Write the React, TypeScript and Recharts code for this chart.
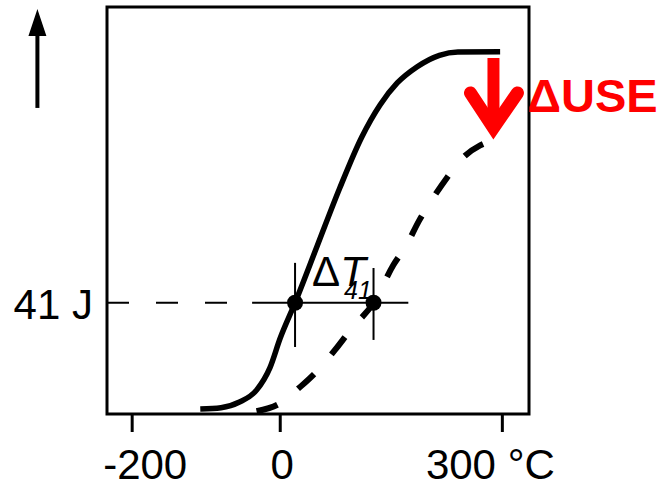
import {
  ComposedChart,
  Line,
  ReferenceArea,
  ReferenceDot,
  ReferenceLine,
  XAxis,
  YAxis,
} from "recharts";

const FONT = "'Liberation Sans', Arial, sans-serif";
const WIDTH = 658;
const HEIGHT = 484;

// temperature (°C) and impact energy (J)
const T_DOMAIN: [number, number] = [-234, 336];
const E_DOMAIN: [number, number] = [0, 150];

const X_TICKS = [-200, 0, 300];
const X_TICK_LABELS = ["-200", "0", "300 °C"];
const Y_TICKS = [41];
const Y_TICK_LABELS = ["41 J"];

// unirradiated (solid)
const BEFORE_T = [-108, -80, -55, -32, -14, 0, 20, 50, 80, 110, 135, 158, 185, 215, 240, 297];
const BEFORE_E = [1.8, 2.3, 4.4, 8.8, 17, 28, 41, 62, 83, 102, 114, 122, 128, 132.2, 133.4, 133.5];

// irradiated (dashed)
const AFTER_T = [-32, 0, 27, 52, 74, 95, 126, 153, 171, 187, 205, 225, 245, 270, 290];
const AFTER_E = [1, 4, 10, 16.5, 23.6, 31, 41, 55, 62.5, 71, 79, 87, 94, 99, 101];

const E41 = 41;
const T41_BEFORE = 20;
const T41_AFTER = 126;
const E41_LINE_END = 173;
const E41_DASH_END = -66;
const E41_SOLID_START = -38;

const USE_ARROW_T = 288;
const USE_ARROW_TOP = 131.2;
const USE_ARROW_TIP = 101;

const Y_ARROW_T = -328;
const Y_ARROW_BOTTOM = 112.8;
const Y_ARROW_TOP = 149.3;

const zip = (ts: number[], es: number[]) => ts.map((t, i) => ({ t, e: es[i] }));
const beforeData = zip(BEFORE_T, BEFORE_E);
const afterData = zip(AFTER_T, AFTER_E);

function XTick(props: any) {
  const { x, y, payload } = props;
  const i = X_TICKS.indexOf(payload.value);
  const shift = payload.value === -200 ? 13 : payload.value === 300 ? -12 : 2;
  return (
    <text
      x={x + shift}
      y={y + 47}
      textAnchor="middle"
      fontSize={42}
      fontFamily={FONT}
      fill="#000"
    >
      {X_TICK_LABELS[i]}
    </text>
  );
}

function YTick(props: any) {
  const { x, y, payload } = props;
  const i = Y_TICKS.indexOf(payload.value);
  return (
    <text x={x} y={y + 16} textAnchor="end" fontSize={42} fontFamily={FONT} fill="#000">
      {Y_TICK_LABELS[i]}
    </text>
  );
}

function UseArrow(props: any) {
  const { x1, y1, x2, y2 } = props;
  const v = y2 - 12;
  return (
    <g>
      <line x1={x1} y1={y1} x2={x2} y2={v - 8} stroke="#ff0000" strokeWidth={12} />
      <path
        d={`M ${x2 - 23} ${y2 - 47} L ${x2} ${v} L ${x2 + 24} ${y2 - 47}`}
        fill="none"
        stroke="#ff0000"
        strokeWidth={13}
        strokeLinecap="round"
        strokeLinejoin="miter"
        strokeMiterlimit={10}
      />
    </g>
  );
}

function UpArrow(props: any) {
  const { x1, y1, x2, y2 } = props;
  return (
    <g>
      <line x1={x1} y1={y1} x2={x2} y2={y2 + 22} stroke="#000" strokeWidth={4} />
      <path d={`M ${x2} ${y2} L ${x2 - 9} ${y2 + 27} L ${x2 + 9} ${y2 + 27} Z`} fill="#000" />
    </g>
  );
}

export default function App() {
  return (
    <div style={{ position: "absolute", left: 0, top: 0, width: WIDTH, height: HEIGHT, background: "#fff" }}>
      <ComposedChart
        width={WIDTH}
        height={HEIGHT}
        margin={{ top: 7, right: 129, bottom: 0, left: 0 }}
      >
        <XAxis
          dataKey="t"
          type="number"
          domain={T_DOMAIN}
          ticks={X_TICKS}
          allowDataOverflow
          height={70}
          axisLine={false}
          tickSize={18}
          tickMargin={0}
          tickLine={{ stroke: "#000", strokeWidth: 3 }}
          tick={<XTick />}
        />
        <YAxis
          type="number"
          domain={E_DOMAIN}
          ticks={Y_TICKS}
          allowDataOverflow
          width={107}
          axisLine={false}
          tickLine={false}
          tickSize={0}
          tickMargin={14}
          tick={<YTick />}
        />
        <ReferenceArea
          x1={T_DOMAIN[0]}
          x2={T_DOMAIN[1]}
          y1={E_DOMAIN[0]}
          y2={E_DOMAIN[1]}
          fill="none"
          fillOpacity={0}
          stroke="#000"
          strokeWidth={3}
          ifOverflow="visible"
        />
        <ReferenceLine
          segment={[
            { x: T_DOMAIN[0], y: E41 },
            { x: E41_DASH_END, y: E41 },
          ]}
          stroke="#000"
          strokeWidth={2}
          strokeDasharray="22 27"
        />
        <ReferenceLine
          segment={[
            { x: E41_SOLID_START, y: E41 },
            { x: E41_LINE_END, y: E41 },
          ]}
          stroke="#000"
          strokeWidth={2}
        />
        <ReferenceLine
          segment={[
            { x: T41_BEFORE, y: 24.7 },
            { x: T41_BEFORE, y: 55.7 },
          ]}
          stroke="#000"
          strokeWidth={2}
        />
        <ReferenceLine
          segment={[
            { x: T41_AFTER, y: 27.3 },
            { x: T41_AFTER, y: 53.8 },
          ]}
          stroke="#000"
          strokeWidth={2}
        />
        <Line
          data={beforeData}
          dataKey="e"
          type="monotone"
          stroke="#000"
          strokeWidth={5.5}
          dot={false}
          activeDot={false}
          isAnimationActive={false}
        />
        <Line
          data={afterData}
          dataKey="e"
          type="monotone"
          stroke="#000"
          strokeWidth={6}
          strokeDasharray="22 26"
          dot={false}
          activeDot={false}
          isAnimationActive={false}
        />
        <ReferenceDot x={T41_BEFORE} y={E41} r={8} fill="#000" stroke="none" />
        <ReferenceDot x={T41_AFTER} y={E41} r={8} fill="#000" stroke="none" />
        <ReferenceDot
          x={43}
          y={47}
          r={0}
          shape={(p: any) => (
            <text x={p.cx} y={p.cy} fontSize={42} fontFamily={FONT} fill="#000">
              <tspan>Δ</tspan>
              <tspan fontStyle="italic">T</tspan>
              <tspan x={p.cx + 32} dy={13} fontSize={25} fontStyle="italic">
                41
              </tspan>
            </text>
          )}
        />
        <ReferenceLine
          segment={[
            { x: USE_ARROW_T, y: USE_ARROW_TOP },
            { x: USE_ARROW_T, y: USE_ARROW_TIP },
          ]}
          shape={<UseArrow />}
        />
        <ReferenceDot
          x={333.6}
          y={111.3}
          r={0}
          shape={(p: any) => (
            <text x={p.cx} y={p.cy} fontSize={47} fontWeight="bold" fontFamily={FONT} fill="#ff0000">
              ΔUSE
            </text>
          )}
        />
        <ReferenceLine
          segment={[
            { x: Y_ARROW_T, y: Y_ARROW_BOTTOM },
            { x: Y_ARROW_T, y: Y_ARROW_TOP },
          ]}
          ifOverflow="visible"
          shape={<UpArrow />}
        />
      </ComposedChart>
    </div>
  );
}
